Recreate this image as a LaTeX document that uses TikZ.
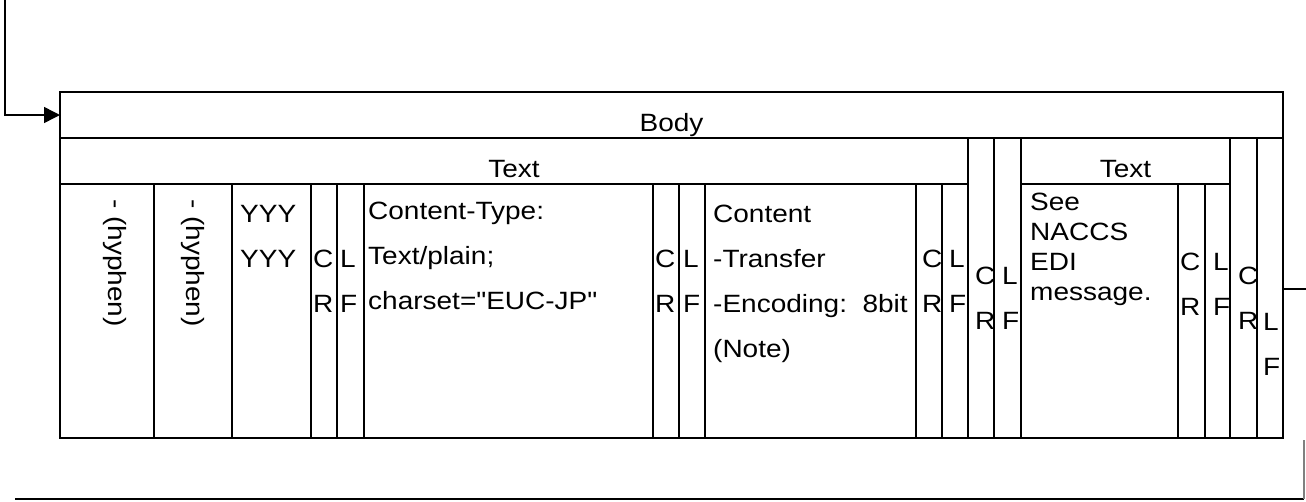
\documentclass[tikz,border=0pt]{standalone}
\usepackage{fontspec}
\setmainfont{Liberation Sans}[FakeStretch=1.12, Ligatures=TeXOff]
\usetikzlibrary{positioning,arrows.meta}

\tikzset{
  cell/.style={draw, line width=2.4pt, inner sep=0pt, outer sep=0pt, anchor=north west},
  lbl/.style={inner sep=0pt, align=left, font=\fontsize{25}{45}\selectfont},
  link/.style={line width=1.5pt}
}

\begin{document}
\begin{tikzpicture}[x=1pt,y=-1pt]

  \useasboundingbox (0,0) rectangle (1306,501);

  % frame rows
  \node[cell, minimum width=1223pt, minimum height=46pt] (body) at (60,92) {};
  \node[cell, minimum width=908pt, minimum height=46pt] (hdrA) at (60,138) {};
  \node[cell, minimum width=209pt, minimum height=46pt] (hdrB) at (1021,138) {};

  % tall CR LF columns
  \node[cell, minimum width=26pt, minimum height=300pt] (crD) at (968,138) {};
  \node[cell, minimum width=27pt, minimum height=300pt] (lfD) at (994,138) {};
  \node[cell, minimum width=27pt, minimum height=300pt] (crF) at (1230,138) {};
  \node[cell, minimum width=26pt, minimum height=300pt] (lfF) at (1257,138) {};

  % inner row
  \node[cell, minimum width=94pt, minimum height=254pt] (hyA) at (60,184) {};
  \node[cell, minimum width=78pt, minimum height=254pt] (hyB) at (154,184) {};
  \node[cell, minimum width=79pt, minimum height=254pt] (yyy) at (232,184) {};
  \node[cell, minimum width=26pt, minimum height=254pt] (crA) at (311,184) {};
  \node[cell, minimum width=27pt, minimum height=254pt] (lfA) at (337,184) {};
  \node[cell, minimum width=289pt, minimum height=254pt] (ctype) at (364,184) {};
  \node[cell, minimum width=26pt, minimum height=254pt] (crB) at (653,184) {};
  \node[cell, minimum width=26pt, minimum height=254pt] (lfB) at (679,184) {};
  \node[cell, minimum width=211pt, minimum height=254pt] (cte) at (705,184) {};
  \node[cell, minimum width=26pt, minimum height=254pt] (crC) at (916,184) {};
  \node[cell, minimum width=26pt, minimum height=254pt] (lfC) at (942,184) {};
  \node[cell, minimum width=157pt, minimum height=254pt] (see) at (1021,184) {};
  \node[cell, minimum width=27pt, minimum height=254pt] (crE) at (1178,184) {};
  \node[cell, minimum width=25pt, minimum height=254pt] (lfE) at (1205,184) {};

  % labels
  \node[lbl, below=21pt of body.north] (bodyT) {Body};
  \node[lbl, below=22pt of hdrA.north] (hdrAT) {Text};
  \node[lbl, below=22pt of hdrB.north] (hdrBT) {Text};

  \node[lbl, below right=15pt and 7.5pt of hyA.north, anchor=west, rotate=-90] (hyAT) {- (hyphen)};
  \node[lbl, below=15pt of hyB.north, anchor=west, rotate=-90] (hyBT) {- (hyphen)};
  \node[lbl, below right=21pt and 8pt of yyy.north west] (yyyT) {YYY\\YYY};
  \node[lbl, below right=66pt and 2pt of crA.north west] (crAT) {C\\R};
  \node[lbl, below right=66pt and 3pt of lfA.north west] (lfAT) {L\\F};
  \node[lbl, below right=18pt and 4pt of ctype.north west] (ctypeT) {Content-Type:\\Text/plain;\\charset="EUC-JP"};
  \node[lbl, below right=66pt and 2pt of crB.north west] (crBT) {C\\R};
  \node[lbl, below right=66pt and 4pt of lfB.north west] (lfBT) {L\\F};
  \node[lbl, below right=21pt and 8pt of cte.north west] (cteT) {Content\\-Transfer\\-Encoding:\ \ 8bit\\(Note)};
  \node[lbl, below right=66pt and 6pt of crC.north west] (crCT) {C\\R};
  \node[lbl, below right=66pt and 7pt of lfC.north west] (lfCT) {L\\F};
  \node[lbl, below right=129pt and 7pt of crD.north west] (crDT) {C\\R};
  \node[lbl, below right=129pt and 8pt of lfD.north west] (lfDT) {L\\F};
  \node[lbl, font=\fontsize{25}{30}\selectfont, below right=9pt and 9pt of see.north west] (seeT) {See\\NACCS\\EDI\\message.};
  \node[lbl, below right=69pt and 2pt of crE.north west] (crET) {C\\R};
  \node[lbl, below right=69pt and 8pt of lfE.north west] (lfET) {L\\F};
  \node[lbl, below right=129pt and 8pt of crF.north west] (crFT) {C\\R};
  \node[lbl, below right=175pt and 6pt of lfF.north west] (lfFT) {L\\F};

  % connectors
  \coordinate (entry) at (5,0);
  \coordinate (exitR) at (1306,289);
  \coordinate (baseL) at (15,499);
  \coordinate (baseR) at (1304,499);
  \coordinate (sideR) at (1304,440);

  \draw[link, -{Triangle[length=16pt,width=16pt]}] (entry) |- (body.west);
  \draw[link] (lfF.east |- exitR) -- (exitR);
  \draw[line width=2.4pt] (baseL) -- (baseR);
  \draw[line width=1.2pt, gray] (baseR) -- (sideR);

\end{tikzpicture}
\end{document}
